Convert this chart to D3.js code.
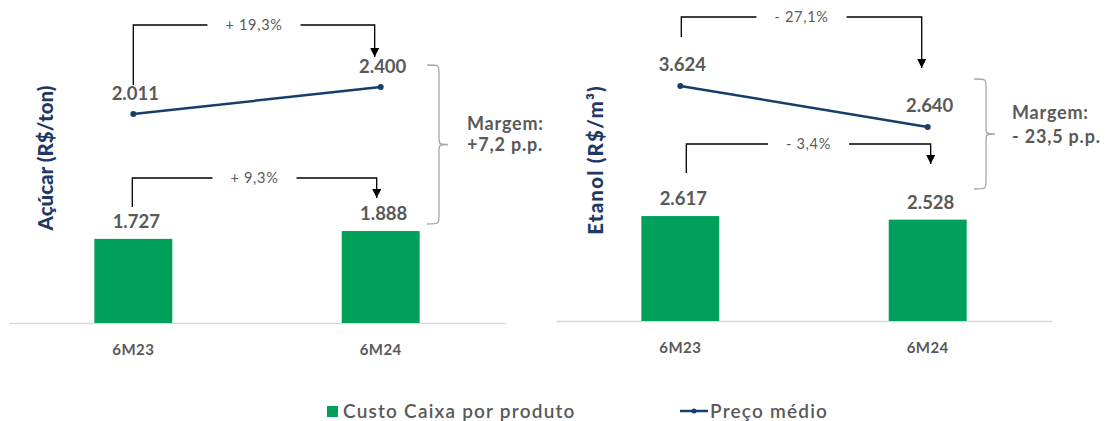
<!DOCTYPE html>
<html lang="pt">
  <head>
    <meta charset="UTF-8">
    <title>Custo Caixa x Preço médio</title>
    <script src="https://d3js.org/d3.v7.min.js"></script>
    <style>
      body { margin: 0; background: #fff; }
      text { font-family: Lato, "Open Sans", sans-serif; fill: #595959; }
    </style>
  </head>
  <body>
    <script>
      // dados
      const categories = ["6M23", "6M24"];
      const acucarCusto = [1727, 1888];
      const acucarPreco = [2011, 2400];
      const etanolCusto = [2617, 2528];
      const etanolPreco = [3624, 2640];
      const acucarVariacao = ["+ 19,3%", "+ 9,3%"];   // preço, custo
      const etanolVariacao = ["- 27,1%", "- 3,4%"];
      const acucarMargem = ["Margem:", "+7,2 p.p."];
      const etanolMargem = ["Margem:", "- 23,5 p.p."];
      const legendLabels = ["Custo Caixa por produto", "Preço médio"];

      const w = 1107, h = 421;
      const green = "#00a05a", navy = "#173d6b", titleColor = "#1f3864";

      const br = d3.formatLocale({ decimal: ",", thousands: ".", grouping: [3], currency: ["R$", ""] });
      const fmt = br.format(",d");

      const svg = d3.select("body").append("svg")
        .attr("width", w)
        .attr("height", h);

      const defs = svg.append("defs");
      defs.append("marker")
        .attr("id", "arrow")
        .attr("viewBox", "0 0 10 10")
        .attr("refX", 10).attr("refY", 5)
        .attr("markerWidth", 10).attr("markerHeight", 9)
        .attr("markerUnits", "userSpaceOnUse")
        .attr("orient", "auto")
        .append("path")
        .attr("d", "M0,0 L10,5 L0,10 Z")
        .attr("fill", "#000");

      const panels = [
        {
          title: "Açúcar (R$/ton)", titleX: 46, titleY: 158, titleSpacing: 0,
          custo: acucarCusto, preco: acucarPreco, variacao: acucarVariacao, margem: acucarMargem,
          x0: 9, x1: 505, base: 323,
          barRange: 194.8, priceRange: [253.6, -24],
          brackets: [
            { y: 25, y1: 85, y2: 57, dx1: 0, dx2: -6 },
            { y: 178, y1: 207, y2: 198, dx1: -1, dx2: -4 }
          ],
          brace: { x0: 427, x1: 439, y0: 65, y1: 224 },
          margemX: 467, margemY: [130, 151]
        },
        {
          title: "Etanol (R$/m³)", titleX: 596, titleY: 160, titleSpacing: 1.2,
          custo: etanolCusto, preco: etanolPreco, variacao: etanolVariacao, margem: etanolMargem,
          x0: 556, x1: 1052, base: 321,
          barRange: 160.4, priceRange: [237, 70.3],
          brackets: [
            { y: 17, y1: 37, y2: 68, dx1: 1, dx2: -6 },
            { y: 144, y1: 173, y2: 164, dx1: 6, dx2: 3 }
          ],
          brace: { x0: 974, x1: 986, y0: 79, y1: 189 },
          margemX: 1012, margemY: [119, 143]
        }
      ];

      panels.forEach(p => {
        const g = svg.append("g");

        const x = d3.scaleBand()
          .domain(categories)
          .range([p.x0, p.x1])
          .paddingInner(0.685)
          .paddingOuter(0.345);
        const cx = d => x(d) + x.bandwidth() / 2;

        const yBar = d3.scaleLinear().domain([0, 4000]).range([p.base, p.base - p.barRange]);
        const yPrice = d3.scaleLinear().domain([0, 4000]).range(p.priceRange);

        // eixo
        const xAxis = d3.axisBottom(x).tickSize(0).tickPadding(21);
        const ax = g.append("g")
          .attr("transform", `translate(0,${p.base})`)
          .call(xAxis);
        ax.select(".domain").attr("stroke", "#d9d9d9").attr("stroke-width", 1.5);
        ax.selectAll("text")
          .style("font-family", "Lato, sans-serif")
          .attr("font-size", 15)
          .attr("font-weight", "bold")
          .attr("letter-spacing", 0.4)
          .attr("fill", "#595959");

        // barras
        g.selectAll(".bar")
          .data(categories)
          .join("rect")
          .attr("class", "bar")
          .attr("x", d => x(d))
          .attr("width", x.bandwidth())
          .attr("y", (d, i) => yBar(p.custo[i]))
          .attr("height", (d, i) => p.base - yBar(p.custo[i]))
          .attr("fill", green);

        g.selectAll(".barLabel")
          .data(categories)
          .join("text")
          .attr("class", "barLabel")
          .attr("x", d => cx(d) + 3)
          .attr("y", (d, i) => yBar(p.custo[i]) - 11)
          .attr("text-anchor", "middle")
          .attr("font-size", 18.5)
          .attr("font-weight", "bold")
          .text((d, i) => fmt(p.custo[i]));

        // linha de preço
        const line = d3.line()
          .x(d => cx(d))
          .y((d, i) => yPrice(p.preco[i]));
        g.append("path")
          .datum(categories)
          .attr("d", line)
          .attr("fill", "none")
          .attr("stroke", navy)
          .attr("stroke-width", 2.5);
        g.selectAll(".pt")
          .data(categories)
          .join("circle")
          .attr("class", "pt")
          .attr("cx", d => cx(d))
          .attr("cy", (d, i) => yPrice(p.preco[i]))
          .attr("r", 3)
          .attr("fill", navy);
        g.selectAll(".ptLabel")
          .data(categories)
          .join("text")
          .attr("class", "ptLabel")
          .attr("x", d => cx(d) + 2)
          .attr("y", (d, i) => yPrice(p.preco[i]) - 14.5)
          .attr("text-anchor", "middle")
          .attr("font-size", 18.5)
          .attr("font-weight", "bold")
          .text((d, i) => fmt(p.preco[i]));

        // setas de variação
        p.brackets.forEach((b, i) => {
          const xa = cx(categories[0]) + b.dx1;
          const xb = cx(categories[1]) + b.dx2;
          const xm = (xa + xb) / 2;
          const t = g.append("text")
            .attr("x", xm)
            .attr("y", b.y + 5)
            .attr("text-anchor", "middle")
            .attr("font-size", 14.5)
            .attr("letter-spacing", 0.7)
            .text(p.variacao[i]);
          const half = t.node().getComputedTextLength() / 2 + 18;
          g.append("path")
            .attr("d", `M${xa},${b.y1} V${b.y} H${xm - half}`)
            .attr("fill", "none").attr("stroke", "#000").attr("stroke-width", 1.3);
          g.append("path")
            .attr("d", `M${xm + half},${b.y} H${xb} V${b.y2}`)
            .attr("fill", "none").attr("stroke", "#000").attr("stroke-width", 1.3)
            .attr("marker-end", "url(#arrow)");
        });

        // chave da margem
        const c = p.brace, ym = (c.y0 + c.y1) / 2;
        g.append("path")
          .attr("d", `M${c.x0},${c.y0} C${c.x1},${c.y0} ${c.x1},${c.y0} ${c.x1},${c.y0 + 8}
                      L${c.x1},${ym - 6} C${c.x1},${ym - 1} ${c.x1},${ym} ${c.x1 + 9},${ym}
                      C${c.x1},${ym} ${c.x1},${ym + 1} ${c.x1},${ym + 6}
                      L${c.x1},${c.y1 - 8} C${c.x1},${c.y1} ${c.x1},${c.y1} ${c.x0},${c.y1}`)
          .attr("fill", "none")
          .attr("stroke", "#a6a6a6")
          .attr("stroke-width", 1.3);

        g.selectAll(".margem")
          .data(p.margem)
          .join("text")
          .attr("class", "margem")
          .attr("x", p.margemX)
          .attr("y", (d, i) => p.margemY[i])
          .attr("font-size", 18)
          .attr("font-weight", "bold")
          .attr("letter-spacing", 0.8)
          .text(d => d);

        // título do eixo
        g.append("text")
          .attr("transform", `translate(${p.titleX},${p.titleY}) rotate(-90)`)
          .attr("text-anchor", "middle")
          .attr("dy", "0.35em")
          .attr("font-size", 20.5)
          .attr("font-weight", 900)
          .attr("letter-spacing", p.titleSpacing)
          .style("fill", titleColor)
          .text(p.title);
      });

      // legenda
      const leg = svg.append("g");
      leg.append("rect")
        .attr("x", 327).attr("y", 406)
        .attr("width", 11).attr("height", 11)
        .attr("fill", green);
      leg.append("text")
        .attr("x", 343).attr("y", 418)
        .attr("font-size", 19)
        .attr("font-weight", 600)
        .attr("letter-spacing", 1.2)
        .text(legendLabels[0]);
      leg.append("line")
        .attr("x1", 680).attr("x2", 708)
        .attr("y1", 411).attr("y2", 411)
        .attr("stroke", navy).attr("stroke-width", 2.5);
      leg.append("circle")
        .attr("cx", 694).attr("cy", 411).attr("r", 2.5)
        .attr("fill", navy);
      leg.append("text")
        .attr("x", 710).attr("y", 418)
        .attr("font-size", 19)
        .attr("font-weight", 600)
        .attr("letter-spacing", 1.2)
        .text(legendLabels[1]);
    </script>
  </body>
</html>
